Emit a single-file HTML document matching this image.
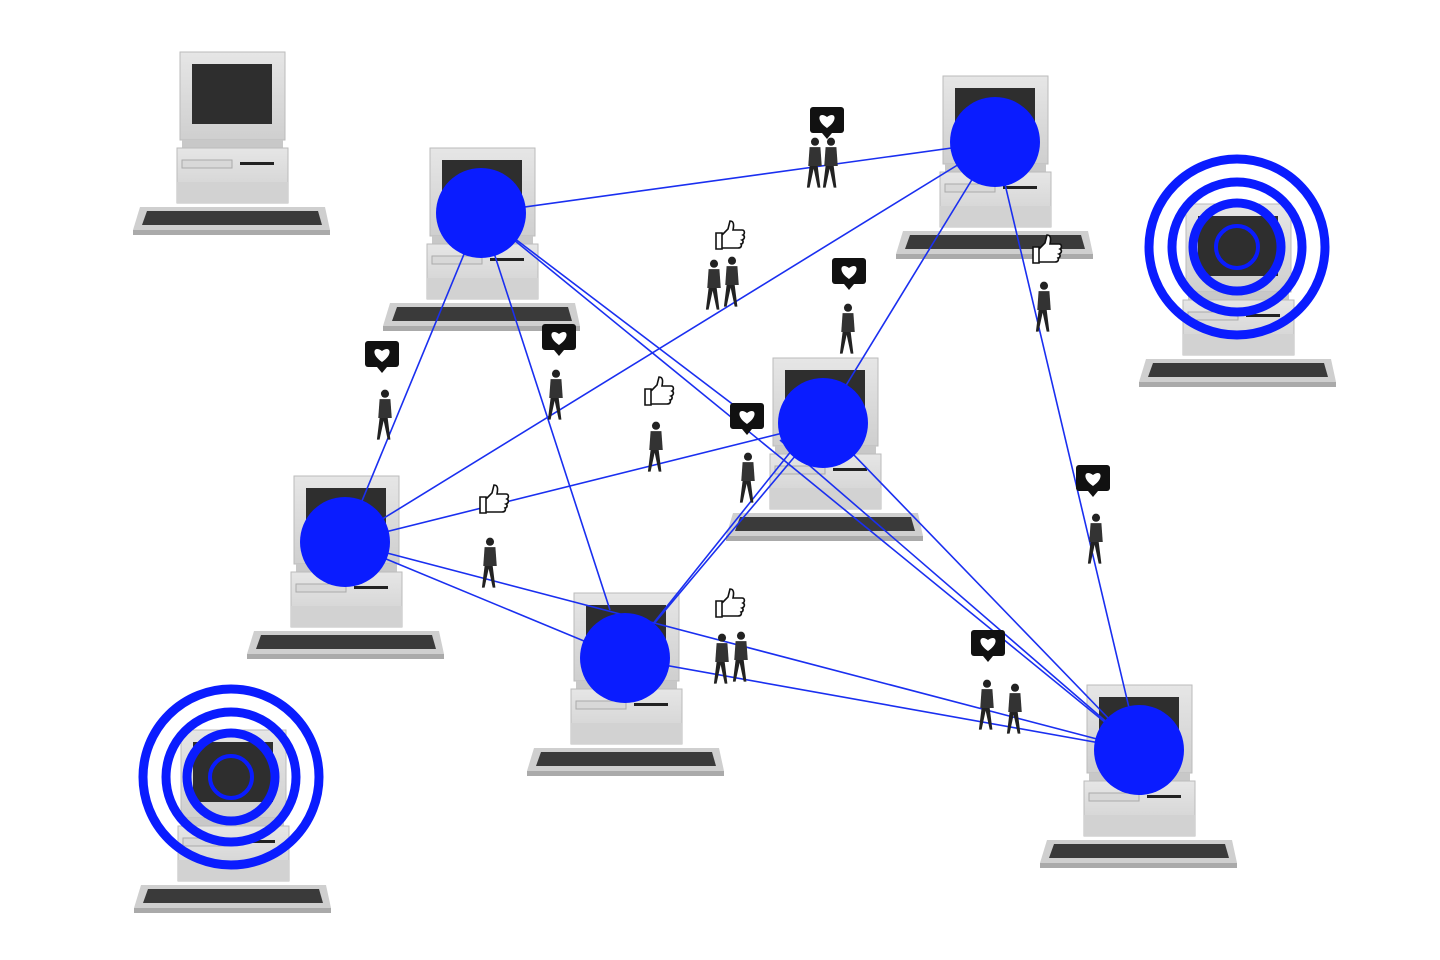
<!DOCTYPE html>
<html><head><style>html,body{margin:0;padding:0;background:#fff}svg{display:block}</style></head>
<body>
<svg width="1440" height="960" viewBox="0 0 1440 960" xmlns="http://www.w3.org/2000/svg">
<defs>
<linearGradient id="g" x1="0" y1="0" x2="0" y2="1"><stop offset="0" stop-color="#e6e6e6"/><stop offset="1" stop-color="#cfcfcf"/></linearGradient>
<g id="pc">
 <rect x="0" y="0" width="105" height="88" fill="url(#g)" stroke="#bbb"/>
 <rect x="12" y="12" width="80" height="60" fill="#2e2e2e"/>
 <rect x="2" y="88" width="101" height="8" fill="#c8c8c8"/>
 <rect x="-3" y="96" width="111" height="55" fill="url(#g)" stroke="#bbb"/>
 <rect x="2" y="108" width="50" height="8" fill="#d8d8d8" stroke="#aaa"/>
 <rect x="60" y="110" width="34" height="3" fill="#222"/>
 <rect x="-3" y="130" width="111" height="21" fill="#d2d2d2"/>
 <path d="M-40 155 L145 155 L150 178 L-47 178 Z" fill="#cfcfcf"/>
 <path d="M-33 159 L138 159 L142 173 L-38 173 Z" fill="#3a3a3a"/>
 <rect x="-47" y="178" width="197" height="5" fill="#aaa"/>
</g>
<g id="heart"><rect x="-17" y="-14" width="34" height="26" rx="3" fill="#111"/><path d="M-5 12 L0 18 L5 12Z" fill="#111"/><path d="M0 7 C-12 -1 -8 -10 0 -4 C8 -10 12 -1 0 7Z" fill="#fff"/></g>
<g id="thumb"><path d="M-12 -2 h6 v16 h-6z M-6 0 l6 -6 l2 -8 c4 0 4 4 3 9 h9 c3 0 3 4 1 5 c2 1 2 4 -1 5 c2 1 1 4 -1 4 c1 2 0 4 -3 4 h-16z" fill="#fff" stroke="#111" stroke-width="1.6"/></g>
<g id="man"><g transform="scale(1.35)"><circle cx="0" cy="-18" r="3" fill="#222"/><path d="M-4 -14 h8 l1 14 h-10z" fill="#333"/><path d="M-4 0 l-2 16 h2 l3 -14 l3 14 h2 l-2 -16z" fill="#222"/></g></g>
</defs>
<use href="#pc" x="180" y="52"/>
<use href="#pc" x="430" y="148"/>
<use href="#pc" x="943" y="76"/>
<use href="#pc" x="1186" y="204"/>
<use href="#pc" x="773" y="358"/>
<use href="#pc" x="294" y="476"/>
<use href="#pc" x="574" y="593"/>
<use href="#pc" x="181" y="730"/>
<use href="#pc" x="1087" y="685"/>
<g stroke="#1a2ff0" stroke-width="1.6" fill="none">
<line x1="481" y1="213" x2="995" y2="142"/>
<line x1="481" y1="213" x2="345" y2="542"/>
<line x1="481" y1="213" x2="610" y2="610"/>
<line x1="481" y1="213" x2="760" y2="425"/>
<line x1="481" y1="213" x2="1139" y2="750"/>
<line x1="995" y1="142" x2="345" y2="542"/>
<line x1="995" y1="142" x2="823" y2="423"/>
<line x1="995" y1="142" x2="1139" y2="750"/>
<line x1="345" y1="542" x2="823" y2="423"/>
<line x1="345" y1="542" x2="625" y2="658"/>
<line x1="345" y1="542" x2="1139" y2="750"/>
<line x1="625" y1="658" x2="823" y2="423"/>
<line x1="640" y1="640" x2="800" y2="440"/>
<line x1="625" y1="658" x2="1139" y2="750"/>
<line x1="823" y1="423" x2="1139" y2="750"/>
<line x1="780" y1="440" x2="1139" y2="750"/>
</g>
<g fill="#0a1cff">
<circle cx="481" cy="213" r="45"/>
<circle cx="995" cy="142" r="45"/>
<circle cx="823" cy="423" r="45"/>
<circle cx="345" cy="542" r="45"/>
<circle cx="625" cy="658" r="45"/>
<circle cx="1139" cy="750" r="45"/>
</g>
<g fill="none" stroke="#0a1cff">
<circle cx="1237" cy="247" r="88" stroke-width="9"/>
<circle cx="1237" cy="247" r="65" stroke-width="9"/>
<circle cx="1237" cy="247" r="44" stroke-width="9"/>
<circle cx="1237" cy="247" r="21" stroke-width="4"/>
<circle cx="231" cy="777" r="88" stroke-width="9"/>
<circle cx="231" cy="777" r="65" stroke-width="9"/>
<circle cx="231" cy="777" r="44" stroke-width="9"/>
<circle cx="231" cy="777" r="21" stroke-width="4"/>
</g>
<use href="#heart" x="827" y="121"/>
<use href="#heart" x="849" y="272"/>
<use href="#heart" x="382" y="355"/>
<use href="#heart" x="559" y="338"/>
<use href="#heart" x="747" y="417"/>
<use href="#heart" x="1093" y="479"/>
<use href="#heart" x="988" y="644"/>
<use href="#thumb" x="728" y="235"/>
<use href="#thumb" x="657" y="391"/>
<use href="#thumb" x="492" y="499"/>
<use href="#thumb" x="728" y="603"/>
<use href="#thumb" x="1045" y="249"/>
<use href="#man" x="815" y="166"/>
<use href="#man" x="831" y="166"/>
<use href="#man" x="714" y="288"/>
<use href="#man" x="732" y="285"/>
<use href="#man" x="848" y="332"/>
<use href="#man" x="385" y="418"/>
<use href="#man" x="556" y="398"/>
<use href="#man" x="656" y="450"/>
<use href="#man" x="748" y="481"/>
<use href="#man" x="490" y="566"/>
<use href="#man" x="1044" y="310"/>
<use href="#man" x="1096" y="542"/>
<use href="#man" x="722" y="662"/>
<use href="#man" x="741" y="660"/>
<use href="#man" x="987" y="708"/>
<use href="#man" x="1015" y="712"/>
</svg>
</body></html>
